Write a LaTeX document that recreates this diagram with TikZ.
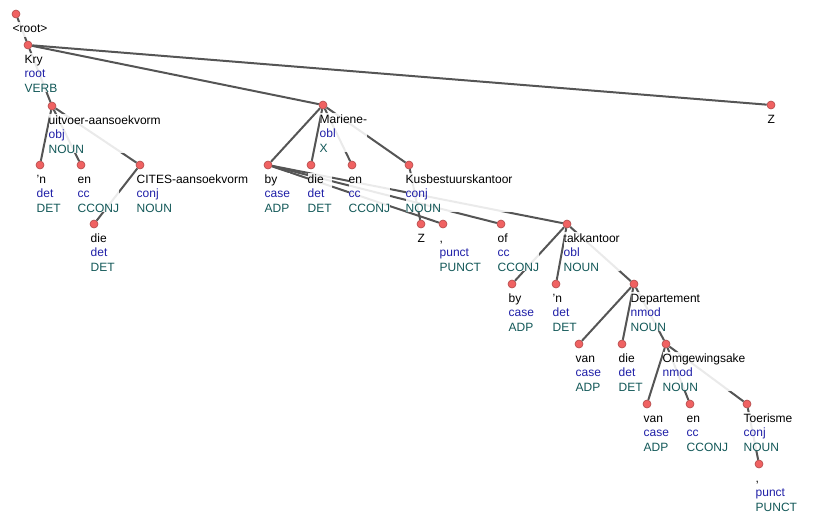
\documentclass[tikz,border=0pt]{standalone}
\usepackage{fontspec}
\setmainfont{Liberation Sans}
\usepackage{xcolor}
\definecolor{dotred}{HTML}{F06262}
\definecolor{dotrim}{HTML}{B04848}
\definecolor{linkgray}{HTML}{555555}
\definecolor{relblue}{HTML}{2020A8}
\definecolor{posteal}{HTML}{125858}
\newcommand{\drel}[1]{\textcolor{relblue}{#1}}
\newcommand{\upos}[1]{\textcolor{posteal}{#1}}
\tikzset{
	tok/.style={circle,fill=dotred,draw=dotrim,line width=0.6pt,inner sep=0pt,minimum size=8pt},
	lbl/.style={anchor=north west,align=left,inner sep=0pt,fill=white,fill opacity=0.88,text opacity=1,font=\fontsize{12}{14.5}\selectfont},
	link/.style={draw=linkgray,line width=2pt}
}

\begin{document}
\begin{tikzpicture}[x=1pt,y=-1pt]
		\useasboundingbox (0,0) rectangle (814,515);
		% tokens
		\node[tok] (root) at (16,14) {};
		\node[tok] (kry) at (28,45) {};
		\node[tok] (uit) at (52,106) {};
		\node[tok] (mar) at (323,105) {};
		\node[tok] (za) at (771,105) {};
		\node[tok] (na) at (40,165) {};
		\node[tok] (ena) at (81,165) {};
		\node[tok] (cit) at (140,165) {};
		\node[tok] (diea) at (94,224) {};
		\node[tok] (bya) at (268,165) {};
		\node[tok] (dieb) at (311,165) {};
		\node[tok] (enb) at (352,165) {};
		\node[tok] (kus) at (409,165) {};
		\node[tok] (zb) at (421,224) {};
		\node[tok] (pa) at (443,224) {};
		\node[tok] (of) at (501,224) {};
		\node[tok] (tak) at (567,224) {};
		\node[tok] (byb) at (512,284) {};
		\node[tok] (nb) at (556,284) {};
		\node[tok] (dep) at (634,284) {};
		\node[tok] (vana) at (579,344) {};
		\node[tok] (diec) at (622,344) {};
		\node[tok] (omg) at (666,344) {};
		\node[tok] (vanb) at (647,404) {};
		\node[tok] (enc) at (690,404) {};
		\node[tok] (toe) at (747,404) {};
		\node[tok] (pb) at (759,464) {};
		%
		\path[link]
		(root) edge (kry)
		(kry) edge (uit)
		(kry) edge (mar)
		(kry) edge (za)
		(uit) edge (na)
		(uit) edge (ena)
		(uit) edge (cit)
		(cit) edge (diea)
		(mar) edge (bya)
		(mar) edge (dieb)
		(mar) edge (enb)
		(mar) edge (kus)
		(kus) edge (zb)
		(bya) edge (pa)
		(bya) edge (of)
		(bya) edge (tak)
		(tak) edge (byb)
		(tak) edge (nb)
		(tak) edge (dep)
		(dep) edge (vana)
		(dep) edge (diec)
		(dep) edge (omg)
		(omg) edge (vanb)
		(omg) edge (enc)
		(omg) edge (toe)
		(toe) edge (pb);
		% labels
		\node[lbl] (root-l) at (12.5,22) {\strut<root>};
		\node[lbl] (kry-l) at (24.5,53) {\strut Kry\\\drel{root}\\\upos{VERB}};
		\node[lbl] (uit-l) at (48.5,114) {\strut uitvoer-aansoekvorm\\\drel{obj}\\\upos{NOUN}};
		\node[lbl] (mar-l) at (319.5,113) {\strut Mariene-\\\drel{obl}\\\upos{X}};
		\node[lbl] (za-l) at (767.5,113) {\strut Z};
		\node[lbl] (na-l) at (36.5,173) {\strut 'n\\\drel{det}\\\upos{DET}};
		\node[lbl] (ena-l) at (77.5,173) {\strut en\\\drel{cc}\\\upos{CCONJ}};
		\node[lbl] (cit-l) at (136.5,173) {\strut CITES-aansoekvorm\\\drel{conj}\\\upos{NOUN}};
		\node[lbl] (diea-l) at (90.5,232) {\strut die\\\drel{det}\\\upos{DET}};
		\node[lbl] (bya-l) at (264.5,173) {\strut by\\\drel{case}\\\upos{ADP}};
		\node[lbl] (dieb-l) at (307.5,173) {\strut die\\\drel{det}\\\upos{DET}};
		\node[lbl] (enb-l) at (348.5,173) {\strut en\\\drel{cc}\\\upos{CCONJ}};
		\node[lbl] (kus-l) at (405.5,173) {\strut Kusbestuurskantoor\\\drel{conj}\\\upos{NOUN}};
		\node[lbl] (zb-l) at (417.5,232) {\strut Z};
		\node[lbl] (pa-l) at (439.5,232) {\strut ,\\\drel{punct}\\\upos{PUNCT}};
		\node[lbl] (of-l) at (497.5,232) {\strut of\\\drel{cc}\\\upos{CCONJ}};
		\node[lbl] (tak-l) at (563.5,232) {\strut takkantoor\\\drel{obl}\\\upos{NOUN}};
		\node[lbl] (byb-l) at (508.5,292) {\strut by\\\drel{case}\\\upos{ADP}};
		\node[lbl] (nb-l) at (552.5,292) {\strut 'n\\\drel{det}\\\upos{DET}};
		\node[lbl] (dep-l) at (630.5,292) {\strut Departement\\\drel{nmod}\\\upos{NOUN}};
		\node[lbl] (vana-l) at (575.5,352) {\strut van\\\drel{case}\\\upos{ADP}};
		\node[lbl] (diec-l) at (618.5,352) {\strut die\\\drel{det}\\\upos{DET}};
		\node[lbl] (omg-l) at (662.5,352) {\strut Omgewingsake\\\drel{nmod}\\\upos{NOUN}};
		\node[lbl] (vanb-l) at (643.5,412) {\strut van\\\drel{case}\\\upos{ADP}};
		\node[lbl] (enc-l) at (686.5,412) {\strut en\\\drel{cc}\\\upos{CCONJ}};
		\node[lbl] (toe-l) at (743.5,412) {\strut Toerisme\\\drel{conj}\\\upos{NOUN}};
		\node[lbl] (pb-l) at (755.5,472) {\strut ,\\\drel{punct}\\\upos{PUNCT}};
\end{tikzpicture}
\end{document}
